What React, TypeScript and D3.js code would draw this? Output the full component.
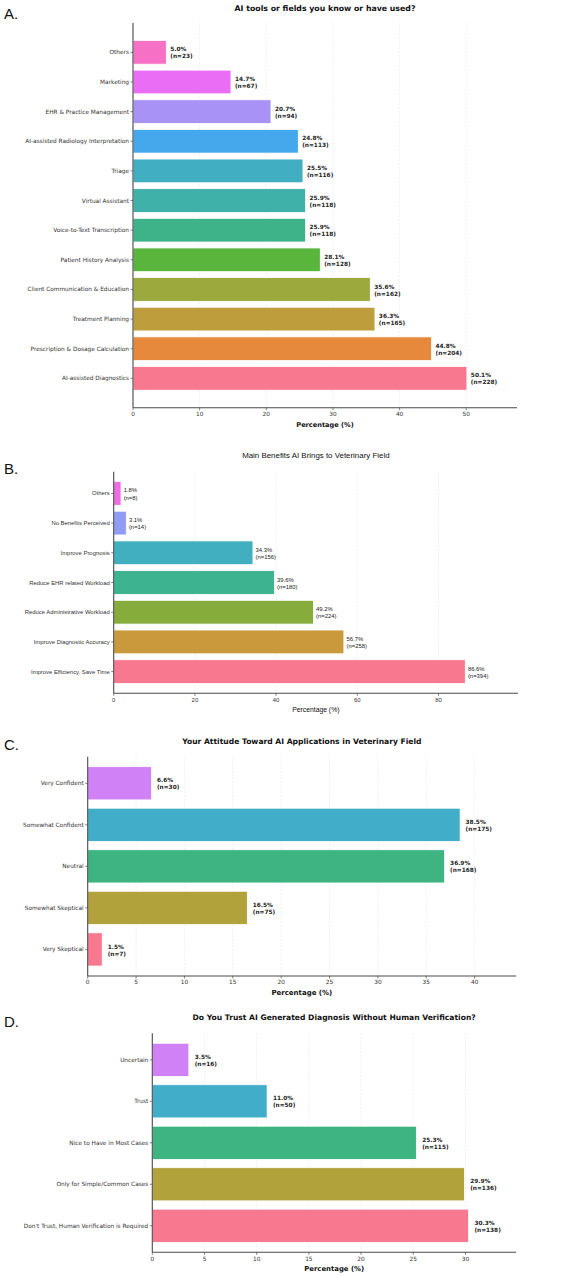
import React from "react";
import * as d3 from "d3";

// Panel A: AI tools or fields (top to bottom as drawn)
const toolCats = [
  "Others",
  "Marketing",
  "EHR & Practice Management",
  "AI-assisted Radiology Interpretation",
  "Triage",
  "Virtual Assistant",
  "Voice-to-Text Transcription",
  "Patient History Analysis",
  "Client Communication & Education",
  "Treatment Planning",
  "Prescription & Dosage Calculation",
  "AI-assisted Diagnostics",
];
const toolPct = [5.0, 14.7, 20.7, 24.8, 25.5, 25.9, 25.9, 28.1, 35.6, 36.3, 44.8, 50.1];
const toolN = [23, 67, 94, 113, 116, 118, 118, 128, 162, 165, 204, 228];

// Panel B: benefits
const benefitCats = [
  "Others",
  "No Benefits Perceived",
  "Improve Prognosis",
  "Reduce EHR related Workload",
  "Reduce Administrative Workload",
  "Improve Diagnostic Accuracy",
  "Improve Efficiency, Save Time",
];
const benefitPct = [1.8, 3.1, 34.3, 39.6, 49.2, 56.7, 86.6];
const benefitN = [8, 14, 156, 180, 224, 258, 394];

// Panel C: attitude
const attitudeCats = ["Very Confident", "Somewhat Confident", "Neutral", "Somewhat Skeptical", "Very Skeptical"];
const attitudePct = [6.6, 38.5, 36.9, 16.5, 1.5];
const attitudeN = [30, 175, 168, 75, 7];

// Panel D: trust
const trustCats = [
  "Uncertain",
  "Trust",
  "Nice to Have in Most Cases",
  "Only for Simple/Common Cases",
  "Don't Trust, Human Verification is Required",
];
const trustPct = [3.5, 11.0, 25.3, 29.9, 30.3];
const trustN = [16, 50, 115, 136, 138];

// husl palettes, listed bottom bar first
const husl12 = ["#f77189", "#e68332", "#bb9832", "#97a431", "#50b131", "#34af84", "#36ada4", "#38aabf", "#3ba3ec", "#a48cf4", "#e866f4", "#f668c2"];
const husl7 = ["#f77189", "#c79432", "#80a831", "#34af89", "#37abbc", "#8a96f4", "#f064e0"];
const husl5 = ["#f77189", "#ae9d31", "#33b07a", "#38a9c5", "#cc7af4"];

const DEJAVU = "DejaVu Sans, sans-serif";
const ARIAL = "Liberation Sans, Arial, sans-serif";

type PanelProps = {
  tag: string;
  tagY: number;
  title: string;
  titleY: number;
  titleSize: number;
  titleWeight: string | number;
  cats: string[];
  pct: number[];
  counts: number[];
  colors: string[];
  tickStep: number;
  left: number;
  right: number;
  top: number;
  bottom: number;
  pad: number;
  font: string;
  labelSize: number;
  valueWeight: string | number;
  xLabelWeight: string | number;
  xLabelSize: number;
  xLabelY: number;
};

function Panel(p: PanelProps) {
  const n = p.cats.length;
  const xMax = d3.max(p.pct)! * 1.15;
  const x = d3.scaleLinear().domain([0, xMax]).range([p.left, p.right]);
  // index 0 is the bottom bar
  const y = d3
    .scaleLinear()
    .domain([-0.4 - p.pad, n - 1 + 0.4 + p.pad])
    .range([p.bottom, p.top]);
  const band = y(0) - y(1);
  const ticks = d3.range(0, xMax, p.tickStep);
  const gap = x(0.5) - x(0) + 0.6;
  const rows = p.cats.map((c, i) => ({
    cat: c,
    pct: p.pct[i],
    n: p.counts[i],
    idx: n - 1 - i,
  }));
  const axisColor = "#4a4a4a";
  const textColor = "#333";
  return (
    <g fontFamily={p.font}>
      <text x={4} y={p.tagY} fontSize={15} fontFamily="Liberation Sans, Arial, sans-serif" fill="#111">
        {p.tag}
      </text>
      <text
        x={(p.left + p.right) / 2}
        y={p.titleY}
        fontSize={p.titleSize}
        fontWeight={p.titleWeight}
        textAnchor="middle"
        fill="#111"
      >
        {p.title}
      </text>
      {ticks.map((t) => (
        <line
          key={"g" + t}
          x1={x(t)}
          x2={x(t)}
          y1={p.top}
          y2={p.bottom}
          stroke="#d4d8dc"
          strokeWidth={0.6}
          strokeDasharray="2,1.5"
          opacity={0.6}
        />
      ))}
      {rows.map((r) => {
        const yc = y(r.idx);
        return (
          <g key={r.cat}>
            <rect
              x={x(0)}
              y={yc - band * 0.4}
              width={x(r.pct) - x(0)}
              height={band * 0.8}
              fill={p.colors[r.idx]}
              fillOpacity={0.95}
              stroke="#fff"
              strokeWidth={0.8}
            />
            <text x={x(r.pct) + gap} y={yc} fontSize={p.labelSize} fontWeight={p.valueWeight} fill="#222">
              <tspan x={x(r.pct) + gap} dy="-0.15em">
                {r.pct.toFixed(1)}%
              </tspan>
              <tspan x={x(r.pct) + gap} dy="1.2em">
                (n={r.n})
              </tspan>
            </text>
            <line x1={p.left - 2.5} x2={p.left} y1={yc} y2={yc} stroke={axisColor} strokeWidth={0.7} />
            <text
              x={p.left - 4}
              y={yc}
              dy="0.35em"
              fontSize={p.labelSize}
              textAnchor="end"
              fill={textColor}
            >
              {r.cat}
            </text>
          </g>
        );
      })}
      <line x1={p.left} x2={p.left} y1={p.top} y2={p.bottom} stroke={axisColor} strokeWidth={1.1} />
      <line x1={p.left} x2={p.right} y1={p.bottom} y2={p.bottom} stroke={axisColor} strokeWidth={1.1} />
      {ticks.map((t) => (
        <g key={"t" + t}>
          <line x1={x(t)} x2={x(t)} y1={p.bottom} y2={p.bottom + 2.5} stroke={axisColor} strokeWidth={0.7} />
          <text x={x(t)} y={p.bottom + 4} dy="0.75em" fontSize={p.labelSize} textAnchor="middle" fill={textColor}>
            {t}
          </text>
        </g>
      ))}
      <text
        x={(p.left + p.right) / 2}
        y={p.xLabelY}
        dy="0.35em"
        fontSize={p.xLabelSize}
        fontWeight={p.xLabelWeight}
        textAnchor="middle"
        fill="#111"
      >
        Percentage (%)
      </text>
    </g>
  );
}

export default function App() {
  return (
    <svg
      width={567}
      height={1277}
      style={{ position: "absolute", left: 0, top: 0, background: "#fff" }}
    >
      <rect width={567} height={1277} fill="#fff" />
      <Panel
        tag="A."
        tagY={18.5}
        title="AI tools or fields you know or have used?"
        titleY={11}
        titleSize={7.8}
        titleWeight="bold"
        cats={toolCats}
        pct={toolPct}
        counts={toolN}
        colors={husl12}
        tickStep={10}
        left={133}
        right={517}
        top={23}
        bottom={407.7}
        pad={0.59}
        font={DEJAVU}
        labelSize={5.8}
        valueWeight="bold"
        xLabelWeight="bold"
        xLabelSize={6.6}
        xLabelY={425}
      />
      <Panel
        tag="B."
        tagY={473.5}
        title="Main Benefits AI Brings to Veterinary Field"
        titleY={457.5}
        titleSize={7.9}
        titleWeight="normal"
        cats={benefitCats}
        pct={benefitPct}
        counts={benefitN}
        colors={husl7}
        tickStep={20}
        left={113.7}
        right={518}
        top={471.7}
        bottom={693.3}
        pad={0.33}
        font={ARIAL}
        labelSize={5.9}
        valueWeight="normal"
        xLabelWeight="normal"
        xLabelSize={6.8}
        xLabelY={710}
      />
      <Panel
        tag="C."
        tagY={749.5}
        title="Your Attitude Toward AI Applications in Veterinary Field"
        titleY={743.5}
        titleSize={7.6}
        titleWeight="bold"
        cats={attitudeCats}
        pct={attitudePct}
        counts={attitudeN}
        colors={husl5}
        tickStep={5}
        left={87.7}
        right={516}
        top={756.7}
        bottom={976}
        pad={0.24}
        font={DEJAVU}
        labelSize={5.8}
        valueWeight="bold"
        xLabelWeight="bold"
        xLabelSize={7}
        xLabelY={992.7}
      />
      <Panel
        tag="D."
        tagY={1027}
        title="Do You Trust AI Generated Diagnosis Without Human Verification?"
        titleY={1019.5}
        titleSize={7.6}
        titleWeight="bold"
        cats={trustCats}
        pct={trustPct}
        counts={trustN}
        colors={husl5}
        tickStep={5}
        left={152.3}
        right={516}
        top={1033.3}
        bottom={1252.3}
        pad={0.24}
        font={DEJAVU}
        labelSize={5.8}
        valueWeight="bold"
        xLabelWeight="bold"
        xLabelSize={6.9}
        xLabelY={1268.7}
      />
    </svg>
  );
}
